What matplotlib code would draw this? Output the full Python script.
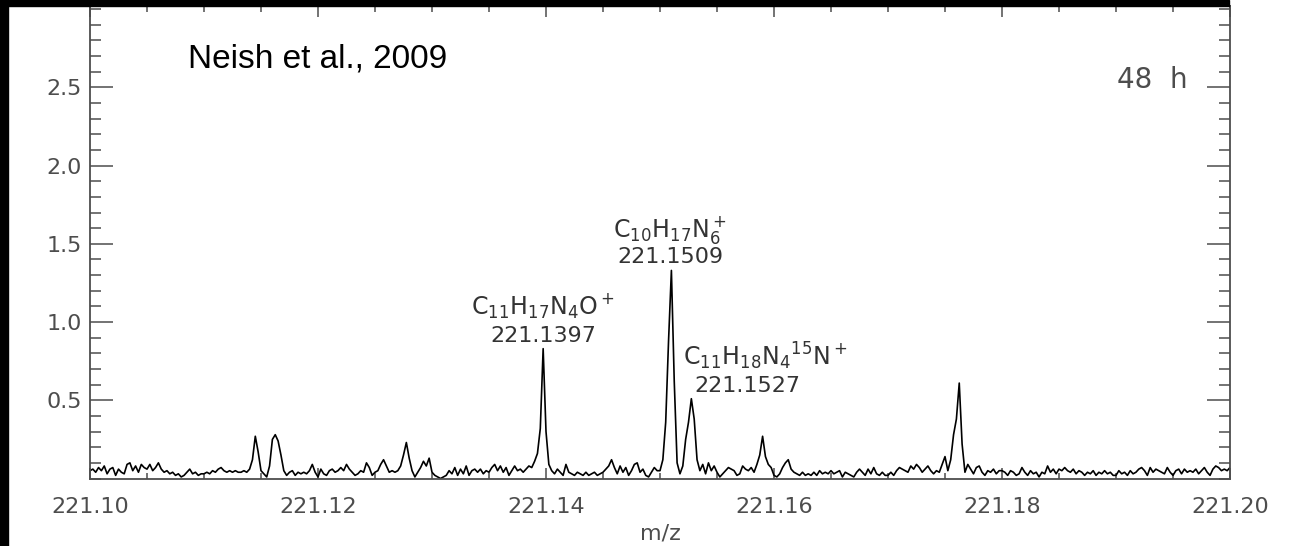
import numpy as np
import matplotlib
matplotlib.use("Agg")
import matplotlib.pyplot as plt
from matplotlib.patches import Rectangle
from matplotlib.ticker import MultipleLocator, FormatStrFormatter

# spectrum, 0.00025 m/z steps from 221.100 to 221.200
intensity = [
    # 221.100
    0.05, 0.06, 0.04, 0.07, 0.05, 0.08, 0.03, 0.06, 0.07, 0.02, 0.06, 0.04, 0.03, 0.09, 0.10, 0.05, 0.08, 0.04, 0.09, 0.07,
    # 221.105
    0.06, 0.09, 0.05, 0.07, 0.10, 0.06, 0.04, 0.05, 0.03, 0.04, 0.02, 0.03, 0.01, 0.02, 0.04, 0.06, 0.03, 0.04, 0.02, 0.03,
    # 221.110
    0.03, 0.04, 0.03, 0.05, 0.04, 0.06, 0.07, 0.05, 0.04, 0.05, 0.04, 0.05, 0.04, 0.04, 0.05, 0.04, 0.06, 0.12, 0.27, 0.17,
    # 221.115
    0.05, 0.03, 0.01, 0.08, 0.25, 0.28, 0.24, 0.15, 0.05, 0.02, 0.04, 0.05, 0.02, 0.04, 0.03, 0.04, 0.03, 0.05, 0.09, 0.04,
    # 221.120
    0.01, 0.06, 0.03, 0.02, 0.05, 0.06, 0.04, 0.05, 0.07, 0.05, 0.09, 0.06, 0.04, 0.02, 0.03, 0.05, 0.04, 0.10, 0.07, 0.02,
    # 221.125
    0.04, 0.05, 0.09, 0.12, 0.08, 0.04, 0.05, 0.04, 0.05, 0.08, 0.15, 0.23, 0.13, 0.05, 0.01, 0.04, 0.07, 0.11, 0.08, 0.13,
    # 221.130
    0.04, 0.02, 0.01, 0.00, 0.01, 0.02, 0.05, 0.03, 0.07, 0.02, 0.06, 0.03, 0.08, 0.02, 0.05, 0.06, 0.04, 0.06, 0.03, 0.05,
    # 221.135
    0.04, 0.07, 0.09, 0.05, 0.08, 0.04, 0.07, 0.02, 0.05, 0.08, 0.05, 0.06, 0.04, 0.06, 0.08, 0.07, 0.11, 0.16, 0.32, 0.83,
    # 221.140
    0.30, 0.09, 0.05, 0.03, 0.06, 0.04, 0.02, 0.09, 0.04, 0.03, 0.02, 0.04, 0.03, 0.02, 0.04, 0.02, 0.03, 0.04, 0.02, 0.03,
    # 221.145
    0.04, 0.06, 0.08, 0.12, 0.07, 0.03, 0.08, 0.04, 0.07, 0.02, 0.05, 0.09, 0.10, 0.04, 0.06, 0.02, 0.01, 0.04, 0.07, 0.05,
    # 221.150
    0.05, 0.12, 0.36, 0.88, 1.33, 0.62, 0.10, 0.03, 0.08, 0.25, 0.36, 0.51, 0.38, 0.12, 0.05, 0.09, 0.03, 0.10, 0.05, 0.08,
    # 221.155
    0.04, 0.01, 0.03, 0.05, 0.07, 0.06, 0.05, 0.02, 0.03, 0.08, 0.06, 0.05, 0.07, 0.04, 0.09, 0.15, 0.27, 0.14, 0.09, 0.07,
    # 221.160
    0.02, 0.01, 0.03, 0.07, 0.10, 0.12, 0.06, 0.04, 0.03, 0.02, 0.04, 0.02, 0.03, 0.02, 0.04, 0.02, 0.05, 0.03, 0.04, 0.03,
    # 221.165
    0.05, 0.03, 0.04, 0.05, 0.01, 0.04, 0.03, 0.02, 0.01, 0.04, 0.06, 0.04, 0.02, 0.06, 0.03, 0.07, 0.03, 0.02, 0.04, 0.02,
    # 221.170
    0.02, 0.04, 0.02, 0.05, 0.07, 0.06, 0.05, 0.04, 0.08, 0.06, 0.09, 0.07, 0.04, 0.06, 0.08, 0.05, 0.03, 0.05, 0.04, 0.09,
    # 221.175
    0.14, 0.05, 0.12, 0.28, 0.38, 0.61, 0.22, 0.04, 0.09, 0.06, 0.03, 0.07, 0.08, 0.04, 0.02, 0.05, 0.04, 0.06, 0.03, 0.05,
    # 221.180
    0.05, 0.04, 0.02, 0.05, 0.04, 0.02, 0.03, 0.07, 0.04, 0.02, 0.05, 0.03, 0.04, 0.01, 0.04, 0.03, 0.08, 0.04, 0.06, 0.03,
    # 221.185
    0.06, 0.05, 0.07, 0.05, 0.04, 0.06, 0.03, 0.05, 0.04, 0.02, 0.04, 0.03, 0.05, 0.02, 0.04, 0.03, 0.05, 0.03, 0.04, 0.02,
    # 221.190
    0.02, 0.05, 0.03, 0.04, 0.02, 0.05, 0.03, 0.04, 0.06, 0.07, 0.05, 0.02, 0.07, 0.04, 0.06, 0.05, 0.04, 0.03, 0.07, 0.04,
    # 221.195
    0.02, 0.05, 0.06, 0.03, 0.06, 0.04, 0.05, 0.04, 0.06, 0.03, 0.05, 0.07, 0.04, 0.02, 0.06, 0.08, 0.07, 0.05, 0.06, 0.05,
    0.07,
]
mz = np.linspace(221.10, 221.20, len(intensity))

# peak labels: (formula, exact mass)
formulas = [r"$\mathregular{C_{11}H_{17}N_4O^+}$",
            r"$\mathregular{C_{10}H_{17}N_6^+}$",
            r"$\mathregular{C_{11}H_{18}N_4{}^{15}N^+}$"]
masses = ["221.1397", "221.1509", "221.1527"]

gray = "#4d4d4d"

fig = plt.figure(figsize=(12.97, 5.46), dpi=100)
ax = fig.add_axes([90 / 1297, 1 - 478.5 / 546, 1140 / 1297, 472.5 / 546])

ax.plot(mz, intensity, color="black", lw=1.2)

ax.set_xlim(221.10, 221.20)
ax.set_ylim(0.0, 3.02)
ax.set_yticks([0.5, 1.0, 1.5, 2.0, 2.5])
ax.yaxis.set_minor_locator(MultipleLocator(0.1))
ax.xaxis.set_major_locator(MultipleLocator(0.02))
ax.xaxis.set_minor_locator(MultipleLocator(0.005))
ax.xaxis.set_major_formatter(FormatStrFormatter("%.2f"))
ax.yaxis.set_major_formatter(FormatStrFormatter("%.1f"))

ax.tick_params(axis="both", which="both", direction="in", top=True, right=True,
               color=gray, labelcolor=gray, labelsize=16, width=1.1)
ax.tick_params(axis="y", which="major", length=16.5, pad=6)
ax.tick_params(axis="y", which="minor", length=8)
ax.tick_params(axis="x", which="major", length=8, pad=13)
ax.tick_params(axis="x", which="minor", length=4)
for s in ax.spines.values():
    s.set_color(gray)
    s.set_linewidth(1.3)

ax.set_xlabel("m/z", fontsize=16, color=gray, labelpad=5)

# annotations
ax.text(221.13974, 1.045, formulas[0], fontsize=17, color="#333333", ha="center", va="baseline")
ax.text(221.13974, 0.872, masses[0], fontsize=16, color="#333333", ha="center", va="baseline")
ax.text(221.15088, 1.543, formulas[1], fontsize=17, color="#333333", ha="center", va="baseline")
ax.text(221.15088, 1.377, masses[1], fontsize=16, color="#333333", ha="center", va="baseline")
ax.text(221.1520, 0.725, formulas[2], fontsize=17, color="#333333", ha="left", va="baseline")
ax.text(221.1577, 0.553, masses[2], fontsize=16, color="#333333", ha="center", va="baseline")

ax.text(0.963, 0.826, "48  h", transform=ax.transAxes, fontsize=20, color=gray,
        ha="right", va="baseline")
ax.text(0.086, 0.869, "Neish et al., 2009", transform=ax.transAxes, fontsize=24,
        family="Liberation Sans", color="black", ha="left", va="baseline")

# black edges of the cropped scan
fig.patches.append(Rectangle((0, 0), 8 / 1297, 1, transform=fig.transFigure,
                             color="black", zorder=10))
fig.patches.append(Rectangle((0, 1 - 6 / 546), 1229 / 1297, 6 / 546,
                             transform=fig.transFigure, color="black", zorder=10))

fig.savefig("out.png", dpi=100)
